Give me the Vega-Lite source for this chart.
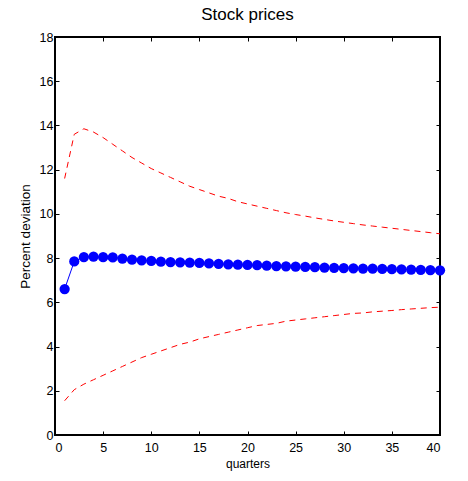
{
  "$schema": "https://vega.github.io/schema/vega-lite/v6.json",
  "width": 385,
  "height": 398,
  "autosize": "none",
  "padding": {"left": 55, "top": 37, "right": 28, "bottom": 46},
  "title": {"text": "Stock prices", "fontSize": 17, "font": "Liberation Sans", "fontWeight": "normal", "color": "black", "offset": 7},
  "config": {
    "view": {"stroke": "black", "strokeWidth": 2},
    "axis": {"grid": false, "domain": false, "tickColor": "black", "tickSize": -4, "tickWidth": 1, "labelFont": "Liberation Sans", "labelFontSize": 12.5, "labelColor": "black", "titleFont": "Liberation Sans", "titleFontSize": 13.5, "titleFontWeight": "normal", "titleColor": "black"}
  },
  "data": {"values": [
    {"q": 1, "est": 6.6, "lo": 1.55, "hi": 11.6},
    {"q": 2, "est": 7.85, "lo": 2.05, "hi": 13.6},
    {"q": 3, "est": 8.05, "lo": 2.3, "hi": 13.85},
    {"q": 4, "est": 8.07, "lo": 2.5, "hi": 13.7},
    {"q": 5, "est": 8.04, "lo": 2.7, "hi": 13.45},
    {"q": 6, "est": 8.03, "lo": 2.9, "hi": 13.15},
    {"q": 7, "est": 7.98, "lo": 3.1, "hi": 12.85},
    {"q": 8, "est": 7.93, "lo": 3.3, "hi": 12.55},
    {"q": 9, "est": 7.9, "lo": 3.5, "hi": 12.3},
    {"q": 10, "est": 7.87, "lo": 3.65, "hi": 12.05},
    {"q": 11, "est": 7.84, "lo": 3.8, "hi": 11.85},
    {"q": 12, "est": 7.82, "lo": 3.95, "hi": 11.65},
    {"q": 13, "est": 7.81, "lo": 4.1, "hi": 11.45},
    {"q": 14, "est": 7.8, "lo": 4.2, "hi": 11.25},
    {"q": 15, "est": 7.78, "lo": 4.35, "hi": 11.1},
    {"q": 16, "est": 7.76, "lo": 4.45, "hi": 10.95},
    {"q": 17, "est": 7.74, "lo": 4.55, "hi": 10.8},
    {"q": 18, "est": 7.72, "lo": 4.65, "hi": 10.7},
    {"q": 19, "est": 7.7, "lo": 4.75, "hi": 10.55},
    {"q": 20, "est": 7.69, "lo": 4.85, "hi": 10.45},
    {"q": 21, "est": 7.68, "lo": 4.95, "hi": 10.35},
    {"q": 22, "est": 7.66, "lo": 5.0, "hi": 10.25},
    {"q": 23, "est": 7.64, "lo": 5.05, "hi": 10.15},
    {"q": 24, "est": 7.63, "lo": 5.15, "hi": 10.05},
    {"q": 25, "est": 7.61, "lo": 5.2, "hi": 9.97},
    {"q": 26, "est": 7.6, "lo": 5.25, "hi": 9.9},
    {"q": 27, "est": 7.59, "lo": 5.3, "hi": 9.82},
    {"q": 28, "est": 7.57, "lo": 5.35, "hi": 9.75},
    {"q": 29, "est": 7.56, "lo": 5.4, "hi": 9.68},
    {"q": 30, "est": 7.55, "lo": 5.45, "hi": 9.62},
    {"q": 31, "est": 7.54, "lo": 5.5, "hi": 9.56},
    {"q": 32, "est": 7.53, "lo": 5.52, "hi": 9.5},
    {"q": 33, "est": 7.52, "lo": 5.57, "hi": 9.45},
    {"q": 34, "est": 7.51, "lo": 5.6, "hi": 9.4},
    {"q": 35, "est": 7.5, "lo": 5.63, "hi": 9.35},
    {"q": 36, "est": 7.49, "lo": 5.67, "hi": 9.3},
    {"q": 37, "est": 7.48, "lo": 5.7, "hi": 9.25},
    {"q": 38, "est": 7.47, "lo": 5.73, "hi": 9.2},
    {"q": 39, "est": 7.46, "lo": 5.76, "hi": 9.15},
    {"q": 40, "est": 7.45, "lo": 5.78, "hi": 9.1}
  ]},
  "resolve": {"axis": {"x": "independent", "y": "independent"}},
  "layer": [
    {
      "mark": {"type": "line", "color": "red", "strokeWidth": 1, "strokeDash": [6, 5]},
      "encoding": {
        "x": {"field": "q", "type": "quantitative", "scale": {"domain": [0, 40], "nice": false}, "axis": {"title": "quarters", "titleFontSize": 12, "values": [0,5,10,15,20,25,30,35,40], "labelPadding": 10, "titlePadding": 5}},
        "y": {"field": "hi", "type": "quantitative", "scale": {"domain": [0, 18], "nice": false}, "axis": {"title": "Percent deviation", "values": [0,2,4,6,8,10,12,14,16,18], "labelPadding": 6, "titlePadding": 7}}
      }
    },
    {
      "mark": {"type": "line", "color": "red", "strokeWidth": 1, "strokeDash": [6, 5]},
      "encoding": {
        "x": {"field": "q", "type": "quantitative", "axis": {"orient": "top", "title": null, "labels": false, "values": [0,5,10,15,20,25,30,35,40]}},
        "y": {"field": "lo", "type": "quantitative", "axis": {"orient": "right", "title": null, "labels": false, "values": [0,2,4,6,8,10,12,14,16,18]}}
      }
    },
    {
      "mark": {"type": "line", "color": "blue", "strokeWidth": 1, "point": {"filled": true, "size": 105, "color": "blue", "opacity": 1}},
      "encoding": {
        "x": {"field": "q", "type": "quantitative", "axis": null},
        "y": {"field": "est", "type": "quantitative", "axis": null}
      }
    }
  ]
}
